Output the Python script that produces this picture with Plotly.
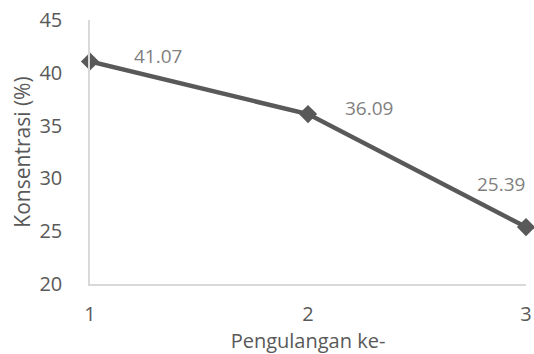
import plotly.graph_objects as go

categories = [1, 2, 3]
values = [41.07, 36.09, 25.39]
value_labels = ["41.07", "36.09", "25.39"]
y_ticks = [20, 25, 30, 35, 40, 45]

label_shift_x = [42, 35, -51]
label_shift_y = [6, 6, 43]

fig = go.Figure()
fig.add_trace(go.Scatter(
    x=categories, y=values, mode="lines+markers",
    line=dict(color="#595959", width=4.5),
    marker=dict(symbol="diamond", size=14, color="#595959"),
    cliponaxis=False, hoverinfo="skip", showlegend=False,
))
for c, v, t, dx, dy in zip(categories, values, value_labels, label_shift_x, label_shift_y):
    fig.add_annotation(x=c, y=v, text=t, showarrow=False, xshift=dx, yshift=dy,
                       xanchor="left", yanchor="middle",
                       font=dict(family="Open Sans", size=19, color="#7f7f7f"))

fig.update_layout(
    width=534, height=354,
    margin=dict(l=90, r=8, t=20, b=70),
    paper_bgcolor="white", plot_bgcolor="white",
    font=dict(family="Open Sans", size=20, color="#595959"),
    xaxis=dict(range=[1, 3], tickvals=categories, ticktext=[str(c) for c in categories],
               showgrid=False, zeroline=False, showline=True, linecolor="#d9d9d9", linewidth=1.5,
               ticks="", ticklabelstandoff=11, automargin=False,
               title=dict(text="Pengulangan ke-", standoff=13, font=dict(size=20, color="#595959"))),
    yaxis=dict(range=[20, 45], tickvals=y_ticks, showgrid=False, zeroline=False,
               showline=True, linecolor="#d9d9d9", linewidth=1.5, ticks="", ticklabelstandoff=22,
               automargin=False,
               title=dict(text="Konsentrasi (%)", standoff=3, font=dict(size=21, color="#595959"))),
)
fig.write_html("out.html")
